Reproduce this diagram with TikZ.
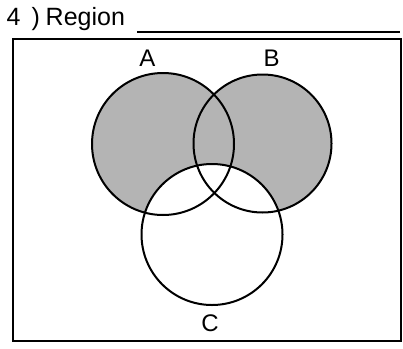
\documentclass[tikz,border=0pt]{standalone}
\usepackage{fontspec}
\setmainfont{Liberation Sans}
\definecolor{shadegray}{RGB}{180,180,180}
\begin{document}
\begin{tikzpicture}[x=1pt,y=-1pt,
  venn/.style={circle, draw=black, line width=2pt, inner sep=0pt, minimum size=#1},
  lbl/.style={font=\fontsize{24}{28}\selectfont, anchor=base, inner sep=0pt},
  frame/.style={draw=black, line width=2pt}]
\useasboundingbox (0,0) rectangle (403,348);
% shading: (A union B) minus C
\fill[shadegray] (163,144) circle[radius=71pt];
\fill[shadegray] (262.5,143.5) circle[radius=69pt];
\fill[white] (212,234.5) circle[radius=70.5pt];
% outlines
\node[venn=142pt] (A) at (163,144) {};
\node[venn=138pt] (B) at (262.5,143.5) {};
\node[venn=141pt] (C) at (212,234.5) {};
% labels
\node[lbl] (la) at (147.5,66.7) {A};
\node[lbl] (lb) at (271.5,66.7) {B};
\node[lbl] (lc) at (210,331.7) {C};
% frame
\draw[frame] (13,39) rectangle (401,341);
% heading
\node[anchor=base west, inner sep=0pt, font=\fontsize{25}{29}\selectfont] (title) at (6.3,25) {4\hspace{11.3pt})\hspace{5.7pt}Region};
\coordinate (u1) at (137,32);
\coordinate (u2) at (400,32);
\draw[line width=1.8pt] (u1) -- (u2);
\end{tikzpicture}
\end{document}
